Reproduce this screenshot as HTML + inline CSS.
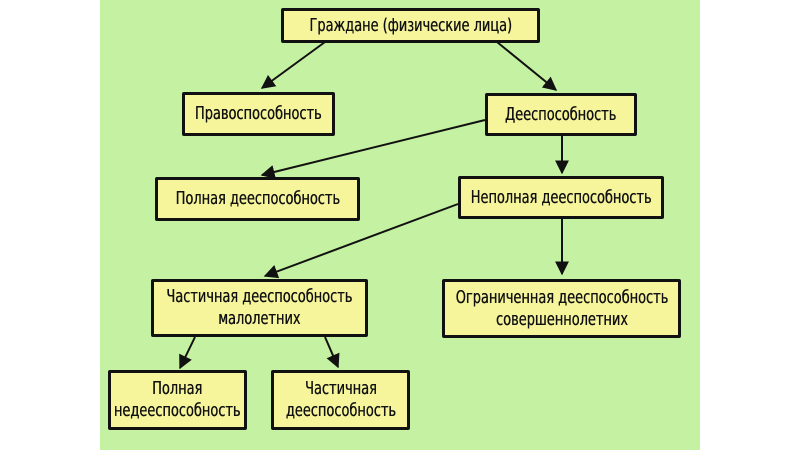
<!DOCTYPE html>
<html><head><meta charset="utf-8"><style>
html,body{margin:0;padding:0;background:#fff;}
body{width:800px;height:450px;position:relative;overflow:hidden;}
.g{position:absolute;left:100px;top:0;width:600px;height:450px;background:#c5f1a2;}
.b{position:absolute;box-sizing:border-box;border:3px solid #111;border-radius:2px;background:#f6f59b;display:flex;align-items:center;justify-content:center;text-align:center;font-family:"DejaVu Sans Condensed","Liberation Sans",sans-serif;font-size:18px;line-height:22px;color:#111;white-space:nowrap;}
.b span{display:inline-block;transform:scaleX(0.8);text-shadow:0.4px 0 0 #111;}
svg{position:absolute;left:0;top:0;}
</style></head><body>
<div class="g"></div>
<svg width="800" height="450">
<defs>
<marker id="m" viewBox="0 0 10 10" refX="9" refY="5" markerWidth="14" markerHeight="14" orient="auto" markerUnits="userSpaceOnUse"><path d="M0,0L10,5L0,10z" fill="#111"/></marker></defs>
<g stroke="#111" stroke-width="2" fill="none" marker-end="url(#m)">
<line x1="325" y1="42" x2="262" y2="88"/>
<line x1="497" y1="42" x2="556" y2="90"/>
<line x1="485" y1="120" x2="262" y2="175"/>
<line x1="562" y1="135" x2="562" y2="173"/>
<line x1="458" y1="204" x2="265" y2="276"/>
<line x1="562" y1="219" x2="562" y2="274"/>
<line x1="195" y1="337" x2="180" y2="368"/>
<line x1="325" y1="337" x2="338" y2="367"/>
</g>
</svg>
<div class="b" style="left:281px;top:8px;width:259px;height:35px;"><span>Граждане (физические лица)</span></div>
<div class="b" style="left:182px;top:92px;width:153px;height:44px;"><span>Правоспособность</span></div>
<div class="b" style="left:485px;top:93px;width:152px;height:43px;"><span>Дееспособность</span></div>
<div class="b" style="left:155px;top:177px;width:205px;height:44px;"><span>Полная дееспособность</span></div>
<div class="b" style="left:458px;top:176px;width:206px;height:43px;"><span>Неполная дееспособность</span></div>
<div class="b" style="left:151px;top:279px;width:217px;height:58px;"><span>Частичная дееспособность<br>малолетних</span></div>
<div class="b" style="left:442px;top:279px;width:239px;height:59px;"><span>Ограниченная дееспособность<br>совершеннолетних</span></div>
<div class="b" style="left:108px;top:370px;width:139px;height:60px;"><span>Полная<br>недееспособность</span></div>
<div class="b" style="left:271px;top:370px;width:139px;height:60px;"><span>Частичная<br>дееспособность</span></div>
</body></html>
